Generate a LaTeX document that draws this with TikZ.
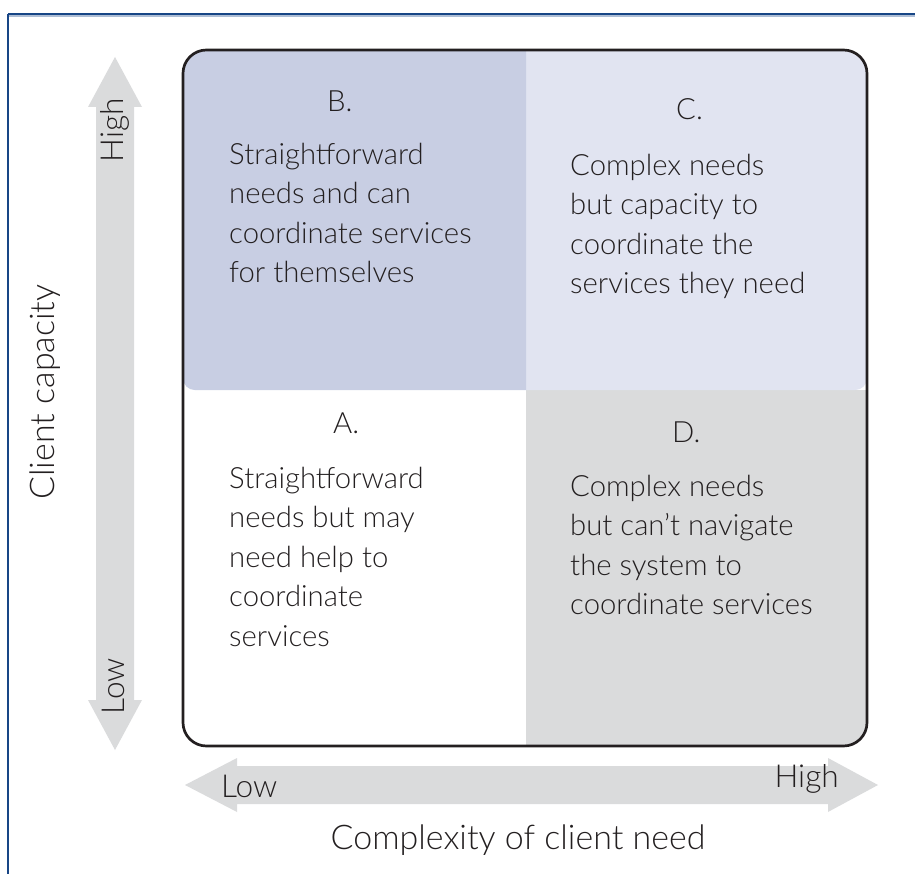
\documentclass[tikz,border=0pt]{standalone}
\usepackage{fontspec}
\setmainfont{Lato Light}
\usetikzlibrary{positioning,calc}

\definecolor{ink}{RGB}{35,31,32}
\definecolor{frameblue}{RGB}{24,70,134}
\definecolor{quadB}{RGB}{200,206,227}
\definecolor{quadC}{RGB}{225,228,241}
\definecolor{quadD}{RGB}{218,219,220}
\definecolor{axisgray}{RGB}{218,219,220}

\begin{document}
\begin{tikzpicture}[x=0.03cm,y=-0.03cm,
    txt/.style={font=\fontsize{25}{33.6}\selectfont, text=ink, inner sep=0pt},
    axistxt/.style={txt, font=\fontsize{27}{32}\selectfont},
    titletxt/.style={txt, font=\fontsize{29}{34}\selectfont},
    quadtext/.style={txt, anchor=north west, align=left},
    quadhead/.style={txt, anchor=base west}]
\useasboundingbox (0,0) rectangle (915,874);

% page frame
\draw[frameblue!35, line width=1.2pt] (8,16) -- (915,16);
\draw[frameblue, line width=1.4pt] (8,14) -- (915,14);
\draw[frameblue, line width=1.4pt] (8,14) -- (8,874);

% axis arrows
\fill[axisgray] (115,57) -- (142,107) -- (134,107) -- (134,700) -- (142,700)
   -- (115,750) -- (88,700) -- (96,700) -- (96,107) -- (88,107) -- cycle;
\fill[axisgray] (185,785) -- (237,758) -- (237,766) -- (828,766) -- (828,758)
   -- (878,785) -- (828,812) -- (828,804) -- (237,804) -- (237,812) -- cycle;

% quadrants
\begin{scope}
  \clip[rounded corners=20] (183,50) rectangle (867,746);
  \fill[quadD] (526,390) rectangle (867,746);
  \begin{scope}
    \clip (526,40) rectangle (880,390);
    \fill[quadC, rounded corners=10] (470,40) rectangle (867,390);
  \end{scope}
  \begin{scope}
    \clip (170,40) rectangle (526,390);
    \fill[quadB, rounded corners=10] (183,40) rectangle (580,390);
  \end{scope}
\end{scope}
\draw[ink, line width=2.3pt, rounded corners=20] (183,50) rectangle (867,746);

\node[quadhead] (hB) at (327,112) {B.};
\node[quadtext] (tB) at (229,143) {Straightforward\\needs and can\\coordinate services\\for themselves};
\node[quadhead] (hC) at (676,120) {C.};
\node[quadtext] (tC) at (570,154) {Complex needs\\but capacity to\\coordinate the\\services they need};
\node[quadhead] (hA) at (333,433) {A.};
\node[quadtext] (tA) at (229,467) {Straightforward\\needs but may\\need help to\\coordinate\\services};
\node[quadhead] (hD) at (672,442) {D.};
\node[quadtext] (tD) at (570,475) {Complex needs\\but can’t navigate\\the system to\\coordinate services};

% axis labels
\node[axistxt, rotate=90] (yhigh) at (115,130) {High};
\node[axistxt, rotate=90] (ylow) at (113,686) {Low};
\node[titletxt, rotate=90] (ycap) at (45,392) {Client capacity};
\node[axistxt, anchor=base west] (xlow) at (221,797) {Low};
\node[axistxt, anchor=base east] (xhigh) at (839,787) {High};
\node[titletxt, anchor=base] (xneed) at (518,849) {Complexity of client need};
\end{tikzpicture}
\end{document}
